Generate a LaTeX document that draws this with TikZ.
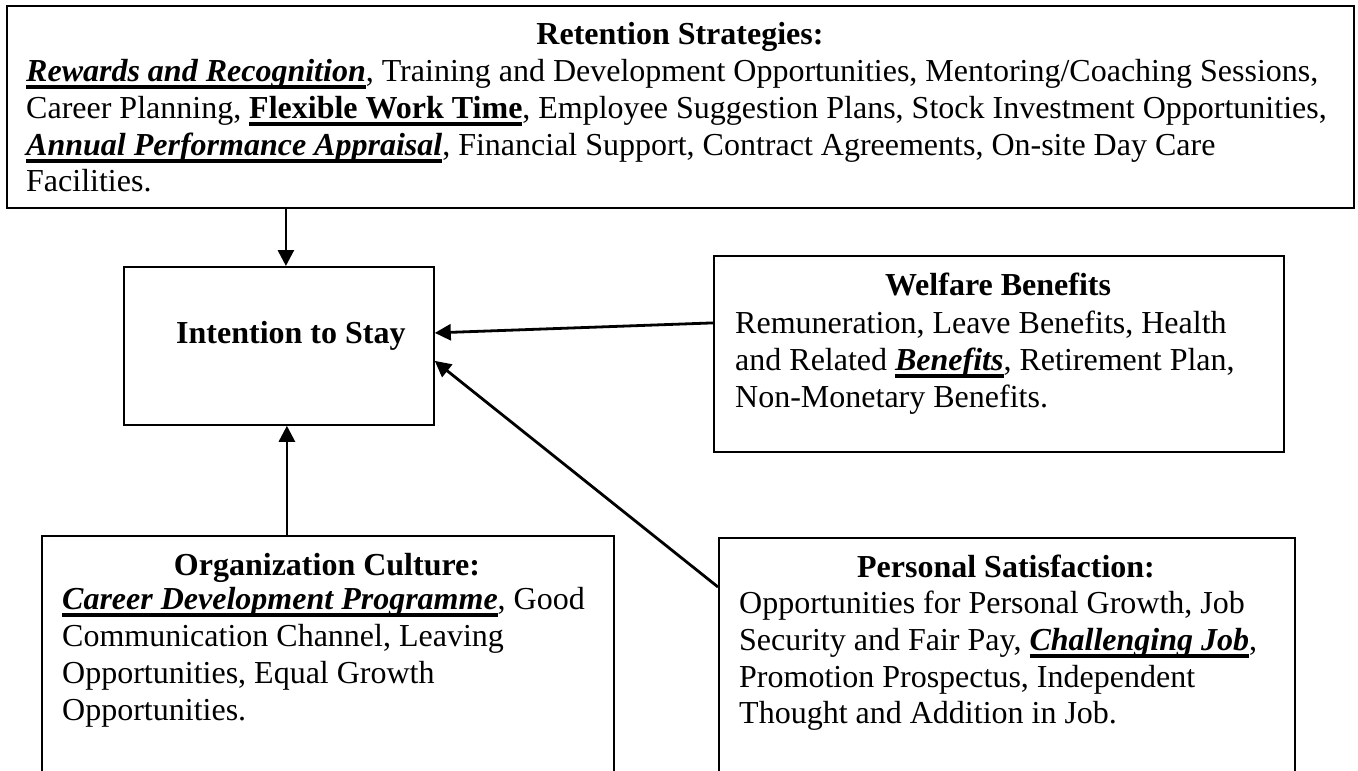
\documentclass[tikz,border=0pt]{standalone}
\usepackage{fontspec}
\setmainfont{Liberation Serif}
\usetikzlibrary{arrows.meta}
\newsavebox{\myulbox}
\newcommand{\myul}[1]{\sbox{\myulbox}{#1}\rlap{\rule[-7.5pt]{\wd\myulbox}{3.6pt}}\usebox{\myulbox}}
\begin{document}
\begin{tikzpicture}[x=1pt,y=-1pt,
  box/.style={draw=black, line width=1.8pt, rectangle, inner sep=0pt, anchor=north west},
  txt/.style={inner sep=0pt, font=\fontsize{32}{37}\selectfont, anchor=base west},
  ttl/.style={inner sep=0pt, font=\fontsize{32}{37}\selectfont\bfseries, anchor=base},
  arr/.style={line width=2.8pt, -{Triangle[length=16pt,width=16pt]}}]
\useasboundingbox (0,0) rectangle (1358,771);
\fill[white] (0,0) rectangle (1358,771);

% boxes
\node[box, minimum width=1347pt, minimum height=202pt] (top) at (6,5) {};
\node[box, minimum width=310pt, minimum height=158pt] (intent) at (123,266) {};
\node[box, minimum width=570pt, minimum height=196pt] (welf) at (713,255) {};
\node[box, minimum width=572pt, minimum height=260pt] (org) at (41,535) {};
\node[box, minimum width=576pt, minimum height=260pt] (pers) at (718,537) {};

% top box text
\node[ttl] (topT) at (680,44) {Retention Strategies:};
\node[txt] (top1) at (26,81) {\myul{\textbf{\textit{Rewards and Recognition}}}, Training and Development Opportunities, Mentoring/Coaching Sessions,};
\node[txt] (top2) at (26,118) {Career Planning, \myul{\textbf{Flexible Work Time}}, Employee Suggestion Plans, Stock Investment Opportunities,};
\node[txt] (top3) at (26,155) {\myul{\textbf{\textit{Annual Performance Appraisal}}}, Financial Support, Contract Agreements, On-site Day Care};
\node[txt] (top4) at (26,191) {Facilities.};

% intention
\node[txt, font=\fontsize{32}{37}\selectfont\bfseries] (intT) at (176,343) {Intention to Stay};

% welfare
\node[ttl] (welT) at (998,295) {Welfare Benefits};
\node[txt] (wel1) at (735,333) {Remuneration, Leave Benefits, Health};
\node[txt] (wel2) at (735,370) {and Related \myul{\textbf{\textit{Benefits}}}, Retirement Plan,};
\node[txt] (wel3) at (735,407) {Non-Monetary Benefits.};

% organization culture
\node[ttl] (orgT) at (327,575) {Organization Culture:};
\node[txt] (org1) at (62,609) {\myul{\textbf{\textit{Career Development Programme}}}, Good};
\node[txt] (org2) at (62,646) {Communication Channel, Leaving};
\node[txt] (org3) at (62,683) {Opportunities, Equal Growth};
\node[txt] (org4) at (62,720) {Opportunities.};

% personal satisfaction
\node[ttl] (perT) at (1006,577) {Personal Satisfaction:};
\node[txt] (per1) at (739,613) {Opportunities for Personal Growth, Job};
\node[txt] (per2) at (739,650) {Security and Fair Pay, \myul{\textbf{\textit{Challenging Job}}},};
\node[txt] (per3) at (739,687) {Promotion Prospectus, Independent};
\node[txt] (per4) at (739,723) {Thought and Addition in Job.};

% connectors
\draw[arr] ([xshift=7pt]top.south -| intent.north) -- ([xshift=7pt]intent.north);
\draw[arr] ([xshift=8pt]org.north -| intent.south) -- ([xshift=8pt]intent.south);
\draw[arr] ([yshift=31pt]welf.west) -- ([yshift=13pt]intent.east);
\draw[arr] ([yshift=-50pt]pers.north west) -- ([yshift=-15pt]intent.east);
\end{tikzpicture}
\end{document}
